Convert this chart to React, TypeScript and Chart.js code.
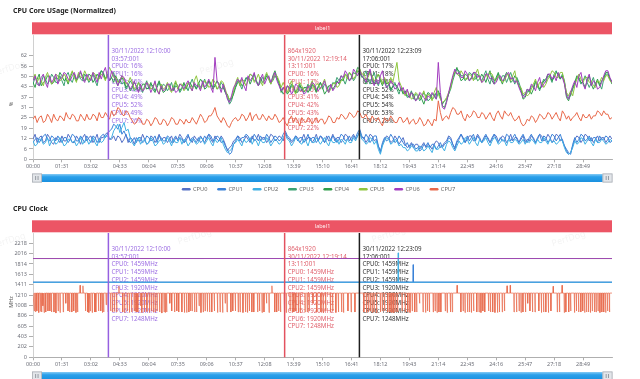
import React, { useEffect, useRef } from 'react';
import { Chart, registerables } from 'chart.js';

Chart.register(...registerables);

const FONT = "'Noto Sans', 'DejaVu Sans', sans-serif";
const AXIS_TEXT = '#6e7079';
const AXIS_LINE = '#9a9a9a';

// ---------- categories / ticks ----------
const seriesNames = ['CPU0', 'CPU1', 'CPU2', 'CPU3', 'CPU4', 'CPU5', 'CPU6', 'CPU7'];
const seriesColors = ['#5470c6', '#3b82d8', '#3fb0e4', '#3ba272', '#2e9d4a', '#8fc63f', '#a23cbf', '#e8684a'];

const SAMPLE_STEP_S = 6.5; // seconds between samples of the usage series
const X_MAX_S = 1820;
const X_TICK_STEP_S = 91;
const timeTickLabels = ['00:00', '01:31', '03:02', '04:33', '06:04', '07:35', '09:06', '10:37', '12:08', '13:39',
  '15:10', '16:41', '18:12', '19:43', '21:14', '22:45', '24:16', '25:47', '27:18', '28:49'];

const USAGE_Y_MAX = 74.4;
const USAGE_TICK_STEP = 6.2;
const usageTickLabels = ['0', '6', '12', '19', '25', '31', '37', '43', '50', '56', '62'];

const CLOCK_Y_MAX = 2416;
const CLOCK_TICK_STEP = 201.6;
const clockTickLabels = ['0', '202', '403', '605', '806', '1008', '1210', '1411', '1613', '1814', '2016', '2218'];

// ---------- CPU usage (%), one sample every 6.5 s ----------
const usageCpu0 = [
  12, 15, 10, 13, 14, 10, 11, 15, 13, 10, 9, 13, 12, 10, 14, 11, 11, 15, 13, 10,
  10, 14, 12, 9, 13, 15, 11, 13, 14, 10, 12, 15, 10, 13, 13, 15, 16, 12, 12, 14,
  11, 14, 13, 10, 12, 15, 10, 13, 12, 9, 13, 11, 11, 15, 12, 9, 10, 14, 13, 10,
  12, 15, 11, 13, 13, 10, 12, 14, 10, 13, 12, 15, 13, 10, 11, 14, 12, 10, 14, 12,
  11, 14, 12, 10, 13, 15, 12, 10, 14, 12, 11, 14, 12, 9, 5, 7, 8, 11, 12, 14,
  13, 10, 11, 14, 12, 10, 14, 11, 12, 15, 11, 13, 13, 10, 12, 15, 14, 11, 12, 14,
  13, 11, 16, 13, 12, 10, 11, 14, 13, 10, 12, 15, 11, 13, 13, 10, 12, 15, 11, 14,
  12, 10, 14, 11, 12, 15, 11, 13, 13, 10, 12, 15, 14, 11, 13, 15, 12, 14, 17, 13,
  13, 10, 12, 15, 14, 11, 12, 8, 5, 9, 12, 14, 13, 10, 11, 14, 12, 9, 11, 13,
  9, 7, 8, 10, 7, 9, 9, 6, 8, 10, 7, 9, 8, 6, 9, 11, 10, 7, 8, 10,
  11, 14, 13, 9, 6, 10, 12, 15, 13, 10, 12, 14, 14, 11, 12, 15, 13, 10, 12, 14,
  13, 10, 12, 15, 14, 11, 12, 14, 13, 10, 12, 15, 11, 13, 13, 10, 12, 14, 10, 12,
  11, 14, 13, 10, 12, 15, 14, 11, 12, 15, 13, 10, 12, 15, 14, 11, 12, 8, 5, 3,
  4, 8, 12, 14, 13, 10, 12, 15, 14, 11, 13, 10, 12, 14, 11, 13, 13, 10, 12, 14, 12];
const usageCpu1 = [
  10, 12, 13, 10, 12, 14, 15, 12, 11, 14, 13, 11, 14, 12, 10, 13, 13, 10, 12, 15,
  14, 11, 11, 14, 12, 10, 14, 12, 10, 14, 13, 10, 12, 14, 15, 13, 15, 17, 18, 21,
  20, 18, 21, 15, 17, 14, 12, 10, 11, 13, 10, 13, 13, 10, 11, 14, 13, 11, 12, 14,
  10, 14, 13, 11, 11, 14, 13, 10, 12, 14, 11, 13, 12, 10, 13, 15, 11, 13, 12, 10,
  13, 10, 11, 14, 12, 15, 14, 11, 12, 14, 13, 10, 11, 8, 6, 3, 4, 9, 11, 14,
  11, 13, 13, 15, 14, 11, 12, 15, 13, 11, 14, 12, 12, 15, 13, 10, 12, 14, 13, 11,
  12, 15, 17, 14, 13, 11, 12, 14, 11, 13, 13, 10, 12, 15, 11, 13, 13, 10, 12, 14,
  13, 10, 12, 14, 11, 14, 13, 10, 12, 15, 14, 11, 12, 14, 11, 14, 13, 16, 18, 14,
  12, 15, 13, 10, 12, 14, 14, 8, 4, 10, 13, 11, 12, 15, 13, 10, 11, 14, 12, 10,
  8, 10, 7, 9, 9, 6, 7, 5, 6, 9, 8, 10, 7, 9, 9, 6, 8, 10, 7, 9,
  10, 13, 12, 9, 7, 11, 13, 15, 12, 10, 14, 11, 13, 15, 11, 14, 12, 10, 13, 15,
  12, 10, 13, 15, 12, 10, 13, 11, 11, 15, 14, 11, 13, 15, 12, 10, 13, 15, 12, 10,
  13, 15, 12, 10, 13, 15, 11, 14, 13, 10, 12, 15, 14, 11, 13, 15, 11, 8, 6, 4,
  3, 9, 13, 10, 12, 15, 14, 11, 12, 14, 11, 13, 13, 10, 14, 12, 12, 14, 13, 10, 11];
const usageCpu2 = [
  11, 8, 9, 12, 12, 9, 10, 13, 8, 11, 12, 9, 10, 13, 11, 8, 9, 12, 12, 10,
  11, 8, 10, 13, 9, 11, 12, 9, 11, 13, 10, 8, 12, 10, 11, 14, 14, 12, 13, 17,
  19, 21, 16, 19, 22, 17, 18, 13, 10, 8, 11, 13, 9, 11, 12, 9, 10, 13, 11, 8,
  9, 11, 12, 9, 10, 13, 11, 8, 12, 10, 10, 13, 9, 12, 11, 8, 10, 12, 11, 9,
  10, 13, 12, 9, 11, 13, 10, 8, 12, 10, 11, 13, 9, 6, 4, 5, 6, 9, 10, 12,
  10, 8, 12, 10, 11, 13, 9, 12, 11, 8, 12, 10, 10, 13, 11, 8, 10, 12, 11, 9,
  10, 13, 15, 12, 11, 8, 10, 13, 12, 10, 9, 12, 11, 8, 12, 10, 10, 13, 11, 9,
  11, 13, 10, 8, 12, 10, 10, 12, 9, 12, 11, 9, 12, 10, 10, 13, 11, 14, 16, 12,
  11, 9, 10, 13, 12, 9, 11, 6, 3, 8, 11, 13, 12, 9, 10, 12, 11, 8, 9, 7,
  7, 5, 6, 8, 7, 5, 5, 8, 7, 5, 6, 8, 6, 4, 8, 6, 6, 8, 7, 5,
  9, 11, 10, 7, 5, 8, 11, 9, 10, 13, 12, 9, 11, 13, 10, 8, 12, 10, 11, 13,
  10, 8, 11, 13, 12, 9, 10, 12, 11, 8, 12, 10, 10, 12, 11, 9, 10, 12, 9, 11,
  10, 12, 11, 9, 12, 10, 10, 13, 11, 9, 12, 10, 11, 9, 10, 12, 11, 7, 4, 3,
  4, 7, 11, 9, 10, 13, 12, 9, 11, 13, 10, 8, 12, 10, 10, 12, 11, 9, 10, 12, 11];
const usageCpu3 = [
  45, 49, 47, 44, 46, 50, 48, 45, 47, 51, 49, 46, 46, 50, 47, 44, 50, 52, 48, 46,
  50, 47, 51, 48, 47, 51, 49, 46, 48, 51, 47, 44, 50, 53, 51, 48, 50, 47, 49, 52,
  47, 44, 48, 45, 46, 42, 44, 47, 45, 41, 42, 46, 43, 40, 44, 47, 42, 45, 44, 41,
  43, 46, 42, 45, 44, 41, 43, 46, 41, 44, 43, 40, 42, 45, 44, 41, 45, 48, 44, 42,
  46, 43, 45, 48, 44, 47, 46, 43, 45, 42, 43, 46, 44, 40, 37, 33, 35, 40, 44, 47,
  45, 42, 46, 49, 48, 51, 50, 47, 47, 44, 46, 49, 48, 51, 49, 46, 47, 50, 48, 45,
  42, 39, 41, 44, 42, 45, 43, 40, 40, 44, 43, 40, 42, 45, 41, 44, 44, 41, 43, 46,
  42, 45, 44, 41, 43, 46, 45, 49, 47, 50, 48, 45, 49, 52, 50, 47, 49, 53, 52, 49,
  50, 53, 48, 45, 49, 52, 47, 44, 48, 46, 47, 43, 45, 41, 44, 46, 42, 39, 43, 40,
  40, 37, 38, 41, 36, 39, 38, 35, 37, 40, 38, 35, 36, 39, 39, 36, 40, 37, 33, 35,
  36, 39, 42, 47, 51, 54, 53, 50, 50, 47, 49, 52, 51, 48, 48, 51, 49, 47, 50, 53,
  48, 45, 50, 47, 48, 51, 47, 50, 50, 46, 49, 52, 48, 45, 49, 46, 42, 38, 39, 42,
  40, 44, 43, 47, 44, 41, 45, 48, 46, 50, 49, 46, 51, 53, 50, 48, 51, 47, 39, 37,
  38, 42, 45, 49, 48, 45, 47, 50, 46, 43, 46, 49, 44, 47, 45, 42, 48, 51, 51, 48, 47];
const usageCpu4 = [
  46, 43, 48, 51, 44, 46, 47, 50, 49, 45, 46, 49, 48, 52, 50, 47, 48, 45, 49, 52,
  51, 47, 49, 52, 50, 47, 48, 51, 50, 46, 48, 51, 49, 53, 52, 48, 51, 47, 49, 46,
  50, 47, 46, 49, 47, 43, 45, 41, 43, 46, 44, 41, 42, 45, 45, 42, 43, 46, 42, 40,
  44, 47, 43, 40, 41, 45, 44, 41, 42, 46, 44, 41, 43, 46, 42, 45, 46, 43, 45, 42,
  45, 48, 46, 42, 43, 47, 45, 42, 44, 47, 45, 42, 43, 40, 39, 35, 36, 39, 43, 46,
  47, 44, 45, 48, 49, 45, 48, 51, 47, 44, 49, 46, 47, 50, 48, 45, 50, 53, 49, 46,
  40, 43, 42, 39, 41, 44, 44, 40, 42, 45, 41, 43, 43, 40, 42, 45, 43, 40, 44, 46,
  43, 39, 41, 44, 44, 42, 44, 47, 45, 48, 47, 51, 50, 47, 49, 52, 51, 55, 54, 50,
  48, 45, 50, 53, 48, 45, 49, 51, 47, 44, 48, 45, 46, 42, 43, 45, 44, 41, 42, 39,
  41, 38, 37, 40, 39, 35, 37, 39, 36, 33, 37, 40, 39, 36, 37, 40, 41, 38, 32, 31,
  35, 39, 44, 49, 52, 55, 51, 47, 48, 51, 50, 47, 49, 52, 50, 47, 48, 51, 49, 46,
  50, 53, 47, 45, 49, 52, 48, 45, 49, 52, 50, 46, 47, 50, 48, 44, 41, 36, 37, 40,
  42, 39, 42, 46, 45, 42, 44, 47, 48, 51, 50, 47, 49, 52, 51, 48, 50, 46, 37, 35,
  39, 43, 46, 50, 49, 46, 46, 43, 47, 50, 45, 42, 45, 48, 44, 47, 49, 52, 52, 48, 45];
const usageCpu5 = [
  48, 51, 46, 49, 47, 44, 49, 52, 48, 45, 47, 51, 50, 47, 48, 51, 49, 46, 50, 53,
  49, 46, 52, 49, 49, 53, 50, 47, 49, 52, 51, 48, 48, 51, 50, 47, 52, 55, 52, 49,
  49, 46, 47, 50, 48, 45, 46, 49, 46, 42, 43, 46, 44, 41, 43, 46, 45, 42, 43, 46,
  42, 39, 45, 42, 43, 46, 42, 40, 44, 47, 42, 45, 45, 41, 43, 46, 44, 41, 47, 50,
  45, 42, 44, 47, 46, 43, 44, 48, 46, 42, 44, 47, 46, 42, 38, 36, 37, 41, 46, 49,
  44, 48, 47, 44, 47, 51, 50, 46, 48, 51, 47, 44, 49, 52, 48, 45, 48, 51, 50, 47,
  43, 46, 43, 40, 44, 47, 42, 39, 43, 46, 44, 41, 41, 44, 44, 47, 42, 45, 45, 42,
  45, 48, 43, 40, 42, 45, 46, 43, 44, 47, 48, 51, 48, 52, 51, 48, 50, 53, 54, 51,
  51, 48, 49, 52, 50, 47, 48, 51, 49, 45, 49, 46, 45, 49, 46, 52, 58, 47, 44, 41,
  38, 41, 39, 36, 37, 40, 39, 36, 38, 41, 36, 39, 38, 35, 40, 43, 39, 36, 34, 35,
  37, 40, 43, 49, 53, 51, 50, 53, 51, 48, 48, 51, 50, 47, 51, 54, 49, 46, 48, 51,
  49, 52, 51, 48, 47, 50, 49, 46, 47, 50, 51, 47, 50, 53, 46, 44, 43, 39, 40, 38,
  39, 42, 45, 48, 43, 46, 46, 43, 45, 48, 50, 53, 52, 49, 49, 52, 52, 46, 40, 38,
  41, 38, 44, 48, 51, 48, 46, 49, 49, 46, 47, 44, 43, 47, 46, 49, 47, 50, 50, 47, 46];
const usageCpu6 = [
  47, 50, 45, 44, 49, 51, 46, 43, 50, 46, 48, 51, 45, 48, 49, 52, 51, 48, 47, 50,
  52, 48, 50, 53, 48, 46, 51, 49, 47, 52, 49, 46, 52, 48, 52, 55, 49, 47, 53, 50,
  48, 44, 47, 50, 49, 46, 45, 42, 44, 47, 43, 40, 45, 41, 42, 46, 44, 40, 43, 47,
  41, 39, 44, 41, 42, 45, 45, 41, 43, 40, 41, 45, 44, 42, 45, 47, 43, 41, 46, 44,
  44, 41, 47, 43, 45, 48, 43, 40, 61, 47, 44, 40, 45, 41, 36, 34, 38, 43, 45, 48,
  46, 49, 44, 41, 50, 47, 49, 52, 46, 44, 48, 51, 45, 48, 50, 46, 49, 52, 47, 44,
  41, 43, 40, 44, 43, 39, 41, 45, 44, 41, 42, 39, 40, 44, 43, 46, 45, 42, 41, 43,
  44, 47, 42, 40, 45, 41, 43, 46, 46, 50, 49, 53, 51, 47, 48, 54, 52, 50, 53, 50,
  49, 46, 51, 54, 47, 44, 48, 45, 50, 53, 46, 43, 44, 47, 45, 42, 43, 46, 41, 43,
  39, 42, 37, 40, 38, 35, 36, 40, 39, 37, 35, 38, 37, 40, 38, 36, 58, 40, 31, 30,
  34, 40, 45, 50, 54, 51, 52, 49, 49, 53, 51, 47, 48, 52, 52, 49, 50, 46, 47, 51,
  51, 48, 49, 45, 46, 49, 50, 47, 48, 51, 52, 48, 49, 46, 47, 43, 40, 37, 38, 42,
  41, 45, 44, 41, 46, 49, 43, 45, 47, 51, 51, 48, 50, 47, 52, 49, 49, 45, 38, 36,
  40, 44, 47, 43, 50, 52, 45, 42, 48, 51, 44, 47, 46, 42, 43, 46, 50, 53, 53, 49, 46];
const usageCpu7 = [
  24, 26, 22, 25, 26, 22, 23, 27, 25, 22, 27, 24, 23, 26, 25, 23, 28, 25, 24, 27,
  26, 23, 23, 27, 25, 23, 27, 24, 24, 27, 26, 23, 28, 25, 25, 28, 26, 24, 29, 26,
  27, 31, 30, 27, 26, 29, 28, 25, 23, 21, 22, 25, 24, 21, 21, 24, 23, 20, 22, 25,
  24, 21, 21, 24, 23, 20, 22, 25, 24, 21, 21, 24, 23, 21, 24, 22, 22, 25, 23, 21,
  24, 27, 25, 22, 23, 26, 26, 28, 31, 26, 24, 22, 25, 23, 20, 19, 22, 24, 25, 23,
  24, 27, 26, 23, 25, 28, 23, 26, 27, 24, 24, 27, 25, 23, 26, 24, 24, 27, 25, 22,
  23, 25, 22, 20, 24, 26, 22, 25, 23, 20, 25, 23, 22, 25, 24, 21, 23, 25, 22, 24,
  24, 21, 23, 26, 25, 22, 22, 25, 24, 27, 26, 24, 25, 28, 27, 25, 26, 29, 28, 25,
  25, 27, 24, 22, 26, 24, 23, 25, 22, 20, 25, 23, 23, 26, 24, 22, 22, 25, 25, 22,
  23, 25, 21, 23, 24, 21, 22, 25, 23, 20, 21, 24, 22, 20, 24, 23, 35, 28, 23, 25,
  26, 24, 28, 31, 30, 27, 27, 29, 25, 23, 27, 25, 26, 29, 28, 25, 25, 28, 27, 24,
  26, 28, 25, 23, 27, 29, 26, 24, 29, 27, 26, 28, 25, 23, 24, 26, 22, 20, 21, 24,
  23, 26, 25, 22, 24, 27, 26, 24, 25, 28, 27, 24, 26, 28, 25, 23, 29, 27, 24, 26,
  23, 25, 26, 28, 25, 23, 27, 25, 25, 27, 24, 26, 26, 29, 28, 26, 29, 27, 27, 24, 25];

// ---------- CPU clock (MHz): [time s, MHz] ----------
const clockCpu0: [number, number][] = [[0, 1459], [1820, 1459]];
const clockCpu1: [number, number][] = [[0, 1459], [1194, 1459], [1195, 1800], [1196, 1459], [1820, 1459]];
const clockCpu2: [number, number][] = [[0, 1459], [1147, 1459], [1148, 2030], [1149, 1459], [1820, 1459]];
const clockCpu3: [number, number][] = [[0, 1920], [1820, 1920]];
const clockCpu4: [number, number][] = [[0, 1920], [1820, 1920]];
const clockCpu5: [number, number][] = [[0, 1920], [1820, 1920]];
const clockCpu6: [number, number][] = [[0, 1920], [1820, 1920]];
const clockCpu7Base = 1248;
// short excursions of CPU7 away from its base clock: [time s, MHz]
const clockCpu7Events: [number, number][] = [
  [4, 900], [8, 880], [12, 900], [18, 870], [24, 890], [27, 880], [31, 1000], [35, 870], [40, 880], [47, 900],
  [53, 900], [58, 880], [66, 880], [72, 860], [79, 900], [85, 870], [95, 880], [103, 1050], [110, 900], [115, 880],
  [122, 880], [128, 900], [135, 870], [140, 880], [148, 1400], [157, 1390], [165, 900], [172, 880], [176, 870], [180, 900],
  [186, 870], [194, 880], [198, 880], [206, 900], [213, 900], [218, 870], [222, 880], [230, 1020], [236, 880], [244, 900],
  [250, 880], [256, 890], [263, 880], [270, 1380], [282, 880], [288, 870], [296, 900], [303, 870], [310, 880], [318, 900],
  [322, 890], [326, 880], [330, 880], [338, 1000], [342, 870], [350, 880], [358, 890], [366, 870], [372, 900], [378, 880],
  [384, 880], [390, 900], [398, 880], [405, 860], [412, 880], [416, 870], [420, 880], [430, 1050], [436, 900], [445, 880],
  [452, 900], [458, 880], [468, 880], [476, 870], [483, 870], [490, 880], [495, 900], [500, 900], [508, 880], [514, 880],
  [522, 1000], [528, 870], [535, 880], [541, 900], [548, 890], [555, 880], [562, 880], [570, 900], [580, 870], [588, 880],
  [596, 870], [604, 1050], [610, 880], [622, 880], [628, 900], [636, 900], [645, 880], [651, 880], [660, 870], [668, 880],
  [674, 870], [680, 900], [688, 880], [694, 880], [706, 880], [712, 900], [720, 870], [726, 880], [734, 1050], [742, 870],
  [751, 1390], [760, 880], [766, 880], [772, 900], [778, 880], [790, 880], [796, 870], [808, 900], [815, 880], [820, 880],
  [826, 900], [834, 870], [840, 870], [855, 880], [862, 880], [868, 900], [880, 1050], [892, 880], [905, 880], [912, 870],
  [920, 900], [935, 880], [942, 900], [952, 870], [960, 880], [970, 880], [976, 870], [990, 900], [1000, 880], [1012, 880],
  [1040, 880], [1048, 870], [1054, 880], [1060, 900], [1066, 870], [1072, 880], [1080, 860], [1092, 880], [1098, 900], [1105, 900],
  [1115, 880], [1122, 880], [1128, 870], [1134, 870], [1140, 880], [1146, 880], [1160, 900], [1170, 880], [1178, 880], [1185, 870],
  [1192, 900], [1200, 880], [1206, 880], [1215, 1050], [1226, 880], [1234, 870], [1240, 900], [1246, 880], [1258, 880], [1264, 900],
  [1270, 870], [1276, 880], [1282, 880], [1296, 900], [1302, 870], [1312, 880], [1318, 880], [1333, 1400], [1345, 880], [1352, 900],
  [1358, 870], [1366, 880], [1372, 880], [1378, 870], [1385, 900], [1395, 880], [1402, 880], [1408, 870], [1414, 900], [1420, 880],
  [1432, 900], [1438, 880], [1445, 880], [1452, 870], [1460, 870], [1466, 880], [1475, 880], [1482, 900], [1490, 1390], [1500, 1400],
  [1512, 880], [1520, 880], [1528, 900], [1534, 870], [1540, 880], [1548, 880], [1555, 1050], [1562, 900], [1570, 880], [1578, 880],
  [1590, 900], [1598, 870], [1605, 880], [1612, 880], [1620, 870], [1628, 900], [1635, 1380], [1648, 880], [1655, 880], [1663, 1400],
  [1670, 870], [1675, 880], [1684, 880], [1690, 900], [1702, 870], [1708, 900], [1715, 880], [1722, 880], [1728, 900], [1734, 870],
  [1740, 880], [1746, 880], [1752, 870], [1758, 900], [1765, 880], [1770, 880], [1776, 900], [1782, 870], [1788, 880], [1794, 880],
  [1800, 870], [1806, 900], [1812, 880],
];

// ---------- markers ----------
const markerTimes = [237, 791, 1026];
const markerLineColors = ['#9660e0', '#e3525f', '#1e1e1e'];
const markerTextColors = ['#9d6fe3', '#e0616d', '#333333'];
const usageNotes = [
  ['30/11/2022 12:10:00', '03:57:001', 'CPU0: 16%', 'CPU1: 16%', 'CPU2: 15%', 'CPU3: 49%', 'CPU4: 49%', 'CPU5: 52%', 'CPU6: 49%', 'CPU7: 26%'],
  ['864x1920', '30/11/2022 12:19:14', '13:11:001', 'CPU0: 16%', 'CPU1: 17%', 'CPU2: 15%', 'CPU3: 41%', 'CPU4: 42%', 'CPU5: 43%', 'CPU6: 41%', 'CPU7: 22%'],
  ['30/11/2022 12:23:09', '17:06:001', 'CPU0: 17%', 'CPU1: 18%', 'CPU2: 16%', 'CPU3: 52%', 'CPU4: 54%', 'CPU5: 54%', 'CPU6: 53%', 'CPU7: 28%'],
];
const clockNotes = [
  ['30/11/2022 12:10:00', '03:57:001', 'CPU0: 1459MHz', 'CPU1: 1459MHz', 'CPU2: 1459MHz', 'CPU3: 1920MHz', 'CPU4: 1920MHz', 'CPU5: 1920MHz', 'CPU6: 1920MHz', 'CPU7: 1248MHz'],
  ['864x1920', '30/11/2022 12:19:14', '13:11:001', 'CPU0: 1459MHz', 'CPU1: 1459MHz', 'CPU2: 1459MHz', 'CPU3: 1920MHz', 'CPU4: 1920MHz', 'CPU5: 1920MHz', 'CPU6: 1920MHz', 'CPU7: 1248MHz'],
  ['30/11/2022 12:23:09', '17:06:001', 'CPU0: 1459MHz', 'CPU1: 1459MHz', 'CPU2: 1459MHz', 'CPU3: 1920MHz', 'CPU4: 1920MHz', 'CPU5: 1920MHz', 'CPU6: 1920MHz', 'CPU7: 1248MHz'],
];

// ---------- builders ----------
type Pt = { x: number; y: number };
const usageSeries = [usageCpu0, usageCpu1, usageCpu2, usageCpu3, usageCpu4, usageCpu5, usageCpu6, usageCpu7];

function usagePoints(values: number[]): Pt[] {
  return values.map((v, i) => ({ x: i * SAMPLE_STEP_S, y: v }));
}
function pairPoints(pairs: [number, number][]): Pt[] {
  return pairs.map(([x, y]) => ({ x, y }));
}
function eventPoints(base: number, events: [number, number][]): Pt[] {
  const pts: Pt[] = [{ x: 0, y: base }];
  [...events].sort((a, b) => a[0] - b[0]).forEach(([t, v]) => {
    pts.push({ x: t - 1, y: base }, { x: t, y: v }, { x: t + 1, y: base });
  });
  pts.push({ x: X_MAX_S, y: base });
  return pts;
}
const clockSeries: Pt[][] = [
  pairPoints(clockCpu0), pairPoints(clockCpu1), pairPoints(clockCpu2), pairPoints(clockCpu3),
  pairPoints(clockCpu4), pairPoints(clockCpu5), pairPoints(clockCpu6), eventPoints(clockCpu7Base, clockCpu7Events),
];

interface PanelCfg {
  title: string;
  axisName: string;
  notes: string[][];
  legend: boolean;
  watermarks: [number, number][];
}

function makeDecor(cfg: PanelCfg) {
  return {
    id: 'decor',
    beforeDraw(chart: any) {
      const { ctx } = chart;
      ctx.save();
      ctx.fillStyle = 'rgba(0,0,0,0.05)';
      ctx.font = `9px ${FONT}`;
      ctx.textBaseline = 'middle';
      cfg.watermarks.forEach(([wx, wy]) => {
        ctx.save();
        ctx.translate(wx, wy);
        ctx.rotate(-0.3);
        ctx.fillText('PerfDog', 0, 0);
        ctx.restore();
      });
      ctx.restore();
    },
    beforeDatasetsDraw(chart: any) {
      const { ctx, chartArea: ca, scales } = chart;
      ctx.save();
      ctx.font = `6.2px ${FONT}`;
      ctx.textBaseline = 'middle';
      ctx.textAlign = 'left';
      markerTimes.forEach((t, k) => {
        const px = scales.x.getPixelForValue(t);
        ctx.fillStyle = markerTextColors[k];
        cfg.notes[k].forEach((s, j) => ctx.fillText(s, px + 3, ca.top + 16 + j * 7.75));
      });
      ctx.restore();
    },
    afterDatasetsDraw(chart: any) {
      const { ctx, chartArea: ca, scales } = chart;
      ctx.save();
      ctx.lineWidth = 1.5;
      markerTimes.forEach((t, k) => {
        const px = scales.x.getPixelForValue(t);
        ctx.strokeStyle = markerLineColors[k];
        ctx.beginPath();
        ctx.moveTo(px, ca.top);
        ctx.lineTo(px, ca.bottom);
        ctx.stroke();
      });
      ctx.restore();
    },
    afterDraw(chart: any) {
      const { ctx, chartArea: ca } = chart;
      ctx.save();
      // title
      ctx.fillStyle = '#222';
      ctx.font = `bold 7px ${FONT}`;
      ctx.textBaseline = 'middle';
      ctx.textAlign = 'left';
      ctx.fillText(cfg.title, 13, 11);
      // label bar
      ctx.fillStyle = '#ec5565';
      ctx.fillRect(ca.left - 1, 22.3, ca.right - ca.left + 1, 12);
      ctx.fillStyle = 'rgba(255,255,255,0.92)';
      ctx.font = `5.5px ${FONT}`;
      ctx.textAlign = 'center';
      ctx.fillText('label1', (ca.left + ca.right) / 2, 28.4);
      // axis name
      ctx.save();
      ctx.translate(11, 104);
      ctx.rotate(-Math.PI / 2);
      ctx.fillStyle = '#555';
      ctx.font = `5.5px ${FONT}`;
      ctx.textAlign = 'center';
      ctx.fillText(cfg.axisName, 0, 0);
      ctx.restore();
      // data zoom slider
      const sy = ca.bottom + 14.7;
      const sh = 8;
      const g = ctx.createLinearGradient(0, sy, 0, sy + sh);
      g.addColorStop(0, '#86cbf5');
      g.addColorStop(0.35, '#2aa0ea');
      g.addColorStop(1, '#1a90df');
      ctx.fillStyle = g;
      ctx.fillRect(ca.left + 6, sy, ca.right - ca.left - 12, sh);
      [ca.left - 1, ca.right - 9.5].forEach((hx) => {
        ctx.fillStyle = '#e3e6ea';
        ctx.fillRect(hx, sy - 0.5, 10, sh + 1);
        ctx.strokeStyle = '#a9aeb5';
        ctx.lineWidth = 0.8;
        ctx.strokeRect(hx + 0.4, sy - 0.1, 9.2, sh + 0.2);
        ctx.fillStyle = '#8e949c';
        ctx.fillRect(hx + 3.2, sy + 2, 0.9, sh - 4);
        ctx.fillRect(hx + 5.6, sy + 2, 0.9, sh - 4);
      });
      // legend
      if (cfg.legend) {
        const ly = ca.bottom + 30;
        ctx.font = `5.7px ${FONT}`;
        ctx.textAlign = 'left';
        ctx.textBaseline = 'middle';
        seriesNames.forEach((name, i) => {
          const lx = 182 + i * 35.4;
          ctx.strokeStyle = seriesColors[i];
          ctx.lineWidth = 2.4;
          ctx.lineCap = 'round';
          ctx.beginPath();
          ctx.moveTo(lx + 1, ly);
          ctx.lineTo(lx + 7.5, ly);
          ctx.stroke();
          ctx.fillStyle = '#666';
          ctx.fillText(name, lx + 11, ly);
        });
      }
      ctx.restore();
    },
  };
}

function makeConfig(kind: 'usage' | 'clock', canvasHeight: number): any {
  const isUsage = kind === 'usage';
  const yLabels = isUsage ? usageTickLabels : clockTickLabels;
  const yStep = isUsage ? USAGE_TICK_STEP : CLOCK_TICK_STEP;
  const datasets = seriesNames.map((name, i) => ({
    label: name,
    data: isUsage ? usagePoints(usageSeries[i]) : clockSeries[i],
    borderColor: seriesColors[i],
    backgroundColor: seriesColors[i],
    borderWidth: isUsage ? 1 : (i === 7 ? 0.7 : 0.9),
    pointRadius: 0,
    pointHoverRadius: 0,
    tension: 0,
    fill: false,
    order: 7 - i,
  }));
  const tickFont = { family: FONT, size: 5.5 };
  const cfg: PanelCfg = isUsage
    ? { title: 'CPU Core USage (Normalized)', axisName: '%', notes: usageNotes, legend: true, watermarks: [[-8, 74], [200, 72]] }
    : { title: 'CPU Clock', axisName: 'MHz', notes: clockNotes, legend: false, watermarks: [[-8, 48], [178, 44], [372, 42], [552, 46]] };
  return {
    type: 'line',
    data: { datasets },
    plugins: [makeDecor(cfg)],
    options: {
      responsive: false,
      maintainAspectRatio: false,
      animation: false,
      events: [],
      parsing: false,
      layout: { padding: { left: 0, right: 28, top: 35, bottom: canvasHeight - 159.3 - 12 } },
      plugins: { legend: { display: false }, tooltip: { enabled: false }, title: { display: false } },
      scales: {
        x: {
          type: 'linear',
          min: 0,
          max: X_MAX_S,
          afterBuildTicks: (s: any) => {
            s.ticks = timeTickLabels.map((_, k) => ({ value: k * X_TICK_STEP_S }));
          },
          afterFit: (s: any) => {
            s.height = 12;
          },
          ticks: {
            autoSkip: false,
            maxRotation: 0,
            minRotation: 0,
            padding: 1,
            color: AXIS_TEXT,
            font: tickFont,
            callback: (_v: any, idx: number) => timeTickLabels[idx],
          },
          grid: { drawOnChartArea: false, drawTicks: true, tickLength: 3, color: AXIS_LINE, lineWidth: 0.8 },
          border: { display: true, color: AXIS_LINE, width: 0.8 },
        },
        y: {
          type: 'linear',
          min: 0,
          max: isUsage ? USAGE_Y_MAX : CLOCK_Y_MAX,
          afterBuildTicks: (s: any) => {
            s.ticks = yLabels.map((_, k) => ({ value: k * yStep }));
          },
          afterFit: (s: any) => {
            s.width = 33;
          },
          ticks: {
            autoSkip: false,
            padding: 2,
            color: AXIS_TEXT,
            font: tickFont,
            callback: (_v: any, idx: number) => yLabels[idx],
          },
          grid: { drawOnChartArea: false, drawTicks: true, tickLength: 4, color: AXIS_LINE, lineWidth: 0.8 },
          border: { display: true, color: '#c4c4c4', width: 0.8 },
        },
      },
    },
  };
}

function Panel({ kind, top, height }: { kind: 'usage' | 'clock'; top: number; height: number }) {
  const ref = useRef<HTMLCanvasElement>(null);
  useEffect(() => {
    const chart = new Chart(ref.current as HTMLCanvasElement, makeConfig(kind, height));
    return () => chart.destroy();
  }, [kind, height]);
  return (
    <canvas
      ref={ref}
      width={640}
      height={height}
      style={{ position: 'absolute', left: 0, top, width: 640, height, display: 'block' }}
    />
  );
}

export default function App() {
  return (
    <div style={{ position: 'fixed', left: 0, top: 0, width: 640, height: 379, background: '#fff', overflow: 'hidden' }}>
      <Panel kind="usage" top={0} height={198} />
      <Panel kind="clock" top={198} height={181} />
    </div>
  );
}
